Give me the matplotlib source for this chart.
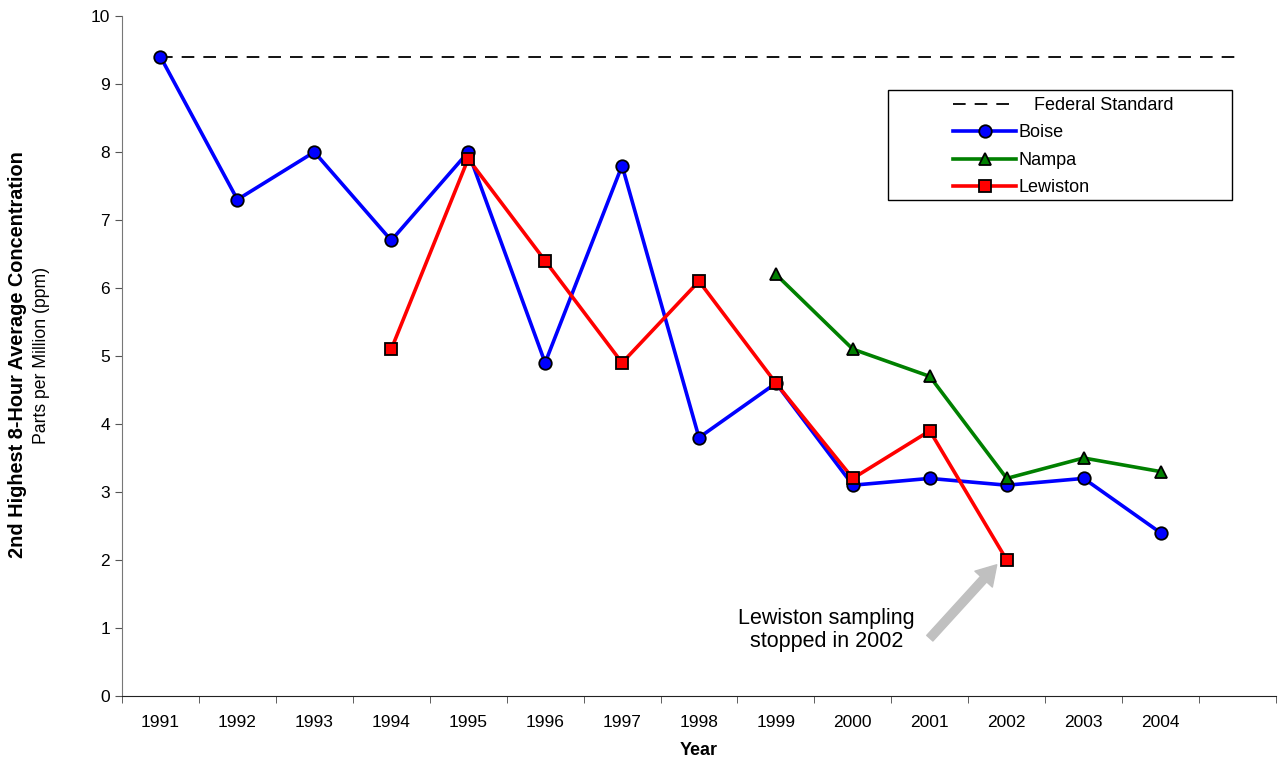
import matplotlib.pyplot as plt
from matplotlib.patches import Rectangle

plt.rcParams["font.family"] = ["Liberation Sans", "DejaVu Sans"]

years = ["1991", "1992", "1993", "1994", "1995", "1996", "1997", "1998",
         "1999", "2000", "2001", "2002", "2003", "2004", ""]
boise = [9.4, 7.3, 8.0, 6.7, 8.0, 4.9, 7.8, 3.8, 4.6, 3.1, 3.2, 3.1, 3.2, 2.4]
lewiston_years = ["1994", "1995", "1996", "1997", "1998", "1999", "2000", "2001", "2002"]
lewiston = [5.1, 7.9, 6.4, 4.9, 6.1, 4.6, 3.2, 3.9, 2.0]
nampa_years = ["1999", "2000", "2001", "2002", "2003", "2004"]
nampa = [6.2, 5.1, 4.7, 3.2, 3.5, 3.3]
federal_standard = 9.4

pos = {y: i for i, y in enumerate(years)}
W, H = 1278, 768

fig = plt.figure(figsize=(12.78, 7.68), dpi=100)
ax = fig.add_axes([122 / W, 1 - 696 / H, (1276 - 122) / W, (696 - 16) / H])

ax.plot([0, len(years) - 1], [federal_standard] * 2, color="black", lw=1.3,
        dashes=(7, 5), label="   Federal Standard")
ax.plot([pos[y] for y in years[:len(boise)]], boise, color="#0000ff", lw=2.6,
        marker="o", ms=9, mfc="#0000ff", mec="black", mew=1.3, label="Boise")
ax.plot([pos[y] for y in nampa_years], nampa, color="#008000", lw=2.6,
        marker="^", ms=9, mfc="#008000", mec="black", mew=1.3, label="Nampa")
ax.plot([pos[y] for y in lewiston_years], lewiston, color="#ff0000", lw=2.6,
        marker="s", ms=8.5, mfc="#ff0000", mec="black", mew=1.3, label="Lewiston")

ax.set_xlim(-0.5, len(years) - 0.5)
ax.set_ylim(0, 10)
ax.set_yticks(range(0, 11))
ax.set_xticks(range(len(years)))
ax.set_xticklabels(years)
ax.set_xticks([i - 0.5 for i in range(len(years) + 1)], minor=True)
ax.tick_params(axis="x", which="major", length=0, pad=14, labelsize=12.5)
ax.tick_params(axis="x", which="minor", length=5, color="#444444")
ax.tick_params(axis="y", length=5, labelsize=12.5, color="#555555")
for s in ["top", "right"]:
    ax.spines[s].set_visible(False)
ax.spines["left"].set_color("#777777")
ax.spines["bottom"].set_color("#222222")

ax.set_xlabel("Year", fontsize=13, fontweight="bold", labelpad=8)
fig.text(8 / W, 1 - 355 / H, "2nd Highest 8-Hour Average Concentration", rotation=90,
         fontsize=14.3, fontweight="bold", ha="left", va="center")
fig.text(33 / W, 1 - 355 / H, "Parts per Million (ppm)", rotation=90,
         fontsize=12.7, ha="left", va="center")

# legend box drawn separately so entries sit centred like the original
ax.add_patch(Rectangle((888 / W, 1 - 200 / H), (1232 - 888) / W, 110 / H,
                       transform=fig.transFigure, facecolor="white",
                       edgecolor="black", lw=1.0, zorder=4, clip_on=False))
leg = ax.legend(loc="upper left", bbox_to_anchor=(953 / W, 1 - 97 / H),
                bbox_transform=fig.transFigure, fontsize=13, frameon=False,
                borderpad=0, borderaxespad=0, handlelength=3.5, handletextpad=0.15,
                labelspacing=0.58)
leg.set_zorder(5)

ax.text(8.66, 0.97, "Lewiston sampling\nstopped in 2002", fontsize=15.5,
        ha="center", va="center", linespacing=1.1)
ax.annotate("", xy=(10.87, 1.93), xytext=(10.0, 0.85),
            arrowprops=dict(arrowstyle="simple,head_width=1.7,head_length=1.4,tail_width=0.6",
                            color="#c0c0c0", shrinkA=0, shrinkB=0))

fig.savefig("out.png", dpi=100)
